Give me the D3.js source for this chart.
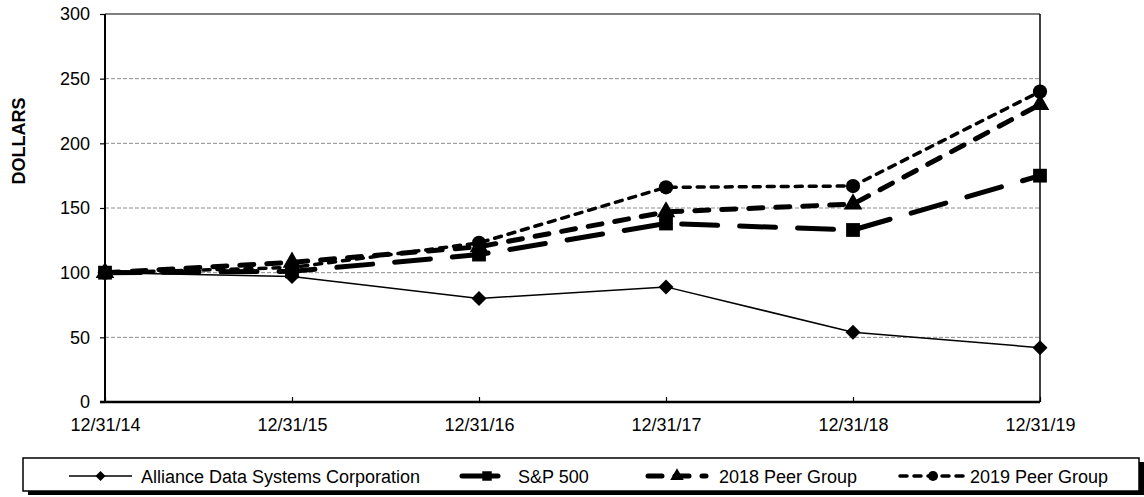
<!DOCTYPE html>
<html>
<head>
<meta charset="utf-8">
<script src="https://cdn.jsdelivr.net/npm/d3@7"></script>
<style>
	body { margin: 0; background: #fff; }
	text { font-family: Arial, "Liberation Sans", sans-serif; fill: #000; }
</style>
</head>
<body>
<div id="chart"></div>
<script>
// values
const dates = ["12/31/14", "12/31/15", "12/31/16", "12/31/17", "12/31/18", "12/31/19"];
const alliance = [100, 97, 80, 89, 54, 42];
const sp500 = [100, 101, 114, 138, 133, 175];
const peer2018 = [100, 108, 120, 147, 153, 230];
const peer2019 = [100, 104, 123, 166, 167, 240];
const yTicks = [0, 50, 100, 150, 200, 250, 300];
const seriesNames = ["Alliance Data Systems Corporation", "S&P 500", "2018 Peer Group", "2019 Peer Group"];

class LineChart {
	constructor(selector) {
		this.width = 1144
		this.height = 497
		this.left = 105
		this.right = 1040
		this.top = 14
		this.bottom = 402

		this.xScale = d3.scalePoint()
			.domain(dates)
			.range([this.left, this.right]);
		this.yScale = d3.scaleLinear()
			.domain([0, 300])
			.range([this.bottom, this.top]);

		// one style per series: stroke width, dashes, marker
		this.series = [
			{name: seriesNames[0], values: alliance, width: 1.5, dash: null, marker: "diamond"},
			{name: seriesNames[1], values: sp500, width: 5, dash: "36,22", marker: "square"},
			{name: seriesNames[2], values: peer2018, width: 5, dash: "14,13", marker: "triangle"},
			{name: seriesNames[3], values: peer2019, width: 3.5, dash: "7,7", marker: "circle"}
		];

		this.svg = d3.select(selector).append("svg")
			.attr("width", this.width)
			.attr("height", this.height);
	}

	symbolFor(marker, size) {
		let types = {
			diamond: d3.symbolSquare,
			square: d3.symbolSquare,
			triangle: d3.symbolTriangle,
			circle: d3.symbolCircle
		};
		return d3.symbol().type(types[marker]).size(size);
	}

	drawAxes() {
		let svg = this.svg;
		let x = this.xScale, y = this.yScale;

		// dashed gridlines
		svg.append("g")
			.selectAll("line")
			.data(yTicks.filter(d => d > 0 && d < 300))
			.join("line")
			.attr("x1", this.left)
			.attr("x2", this.right)
			.attr("y1", d => y(d))
			.attr("y2", d => y(d))
			.attr("stroke", "#8c8c8c")
			.attr("stroke-width", 1)
			.attr("stroke-dasharray", "4,2");

		// top and right border
		svg.append("line")
			.attr("x1", this.left).attr("x2", this.right)
			.attr("y1", this.top).attr("y2", this.top)
			.attr("stroke", "#000").attr("stroke-width", 1.2);
		svg.append("line")
			.attr("x1", this.right).attr("x2", this.right)
			.attr("y1", this.top).attr("y2", this.bottom)
			.attr("stroke", "#000").attr("stroke-width", 1.5);

		let yAxis = d3.axisLeft(y)
			.tickValues(yTicks)
			.tickSize(5)
			.tickPadding(10);
		let gy = svg.append("g")
			.attr("transform", `translate(${this.left},0)`)
			.call(yAxis);
		gy.select(".domain").attr("stroke-width", 2).attr("d", `M0,${this.top}V${this.bottom}`);
		gy.selectAll(".tick line").attr("stroke-width", 1.2);
		gy.selectAll("text").style("font-size", "18px").attr("fill", "#000");

		let xAxis = d3.axisBottom(x)
			.tickSize(-5)
			.tickPadding(16);
		let gx = svg.append("g")
			.attr("transform", `translate(0,${this.bottom})`)
			.call(xAxis);
		gx.select(".domain").attr("stroke-width", 2.5).attr("d", `M${this.left - 5},0H${this.right}`);
		gx.selectAll(".tick line").attr("stroke-width", 1.2);
		gx.selectAll("text").style("font-size", "18px").attr("fill", "#000");

		svg.append("text")
			.text("DOLLARS")
			.attr("transform", `translate(24.5,${(this.top + this.bottom) / 2 - 67}) rotate(-90)`)
			.attr("text-anchor", "middle")
			.style("font-size", "18px")
			.style("font-weight", "bold");
	}

	drawLines() {
		let x = this.xScale, y = this.yScale;
		let line = d3.line()
			.x((d, i) => x(dates[i]))
			.y(d => y(d));

		let groups = this.svg.append("g")
			.selectAll("g")
			.data(this.series)
			.join("g");

		groups.append("path")
			.attr("d", d => line(d.values))
			.attr("fill", "none")
			.attr("stroke", "#000")
			.attr("stroke-width", d => d.width)
			.attr("stroke-linecap", d => d.dash ? "round" : "butt")
			.attr("stroke-dasharray", d => d.dash);

		let sizes = {diamond: 112, square: 190, triangle: 150, circle: 160};
		groups.selectAll(".marker")
			.data(d => d.values.map(v => ({v: v, marker: d.marker})))
			.join("path")
			.attr("class", "marker")
			.attr("d", d => this.symbolFor(d.marker, sizes[d.marker])())
			.attr("transform", (d, i) => `translate(${x(dates[i])},${y(d.v)})` + (d.marker === "diamond" ? " rotate(45)" : ""))
			.attr("fill", "#000");
	}

	drawLegend() {
		let svg = this.svg;
		// shadow + box
		svg.append("rect")
			.attr("x", 28).attr("y", 462)
			.attr("width", 1116).attr("height", 33)
			.attr("fill", "#000");
		svg.append("rect")
			.attr("x", 23).attr("y", 458)
			.attr("width", 1116).attr("height", 33)
			.attr("fill", "#fff")
			.attr("stroke", "#000")
			.attr("stroke-width", 1.5);

		// sample start, sample end, text start
		let slots = [[69, 132, 141], [462, 512, 518], [648, 706, 719], [900, 966, 970]];
		let sizes = {diamond: 50, square: 90, triangle: 80, circle: 80};
		let ly = 476;
		let items = svg.append("g")
			.selectAll("g")
			.data(this.series)
			.join("g");

		items.append("line")
			.attr("x1", (d, i) => slots[i][0])
			.attr("x2", (d, i) => slots[i][1])
			.attr("y1", ly).attr("y2", ly)
			.attr("stroke", "#000")
			.attr("stroke-width", d => d.width)
			.attr("stroke-linecap", d => d.dash ? "round" : "butt")
			.attr("stroke-dasharray", d => d.dash);

		items.append("path")
			.attr("d", d => this.symbolFor(d.marker, sizes[d.marker])())
			.attr("transform", (d, i) => `translate(${(slots[i][0] + slots[i][1]) / 2},${ly})` + (d.marker === "diamond" ? " rotate(45)" : ""))
			.attr("fill", "#000");

		items.append("text")
			.text(d => d.name)
			.attr("x", (d, i) => slots[i][2])
			.attr("y", ly + 6.5)
			.style("font-size", "18px");
	}
}

let chart = new LineChart("#chart");
chart.drawAxes();
chart.drawLines();
chart.drawLegend();
</script>
</body>
</html>
